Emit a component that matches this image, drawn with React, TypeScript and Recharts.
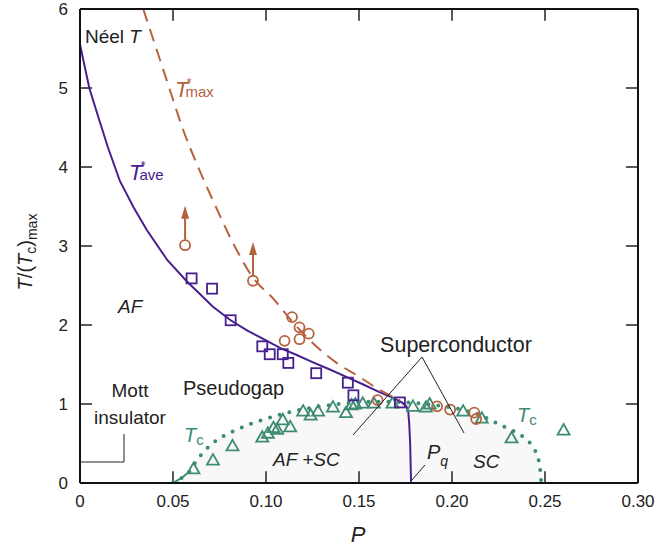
import React from 'react'
import {
  ComposedChart,
  Line,
  Area,
  Scatter,
  XAxis,
  YAxis,
  ReferenceLine,
} from 'recharts'

// doping P vs T/(Tc)max
const xTicks = [0, 0.05, 0.1, 0.15, 0.2, 0.25, 0.3]
const yTicks = [0, 1, 2, 3, 4, 5, 6]

const tAveCurve = [
  { p: 0, v: 5.55 }, { p: 0.005, v: 5.0 }, { p: 0.01, v: 4.62 }, { p: 0.015, v: 4.25 },
  { p: 0.0215, v: 3.82 }, { p: 0.029, v: 3.48 }, { p: 0.036, v: 3.2 }, { p: 0.047, v: 2.82 },
  { p: 0.0575, v: 2.55 }, { p: 0.065, v: 2.38 }, { p: 0.0715, v: 2.23 }, { p: 0.081, v: 2.06 },
  { p: 0.09, v: 1.93 }, { p: 0.098, v: 1.83 }, { p: 0.1075, v: 1.71 }, { p: 0.1165, v: 1.62 },
  { p: 0.125, v: 1.53 }, { p: 0.134, v: 1.44 }, { p: 0.1435, v: 1.34 }, { p: 0.152, v: 1.25 },
  { p: 0.161, v: 1.15 }, { p: 0.168, v: 1.08 }, { p: 0.173, v: 1.02 }, { p: 0.1755, v: 0.97 },
  { p: 0.1765, v: 0.9 }, { p: 0.177, v: 0.75 }, { p: 0.1775, v: 0.5 }, { p: 0.178, v: 0 },
]

const tMaxCurve = [
  { p: 0.034, v: 6.0 }, { p: 0.041, v: 5.5 }, { p: 0.048, v: 5.0 }, { p: 0.055, v: 4.5 },
  { p: 0.0635, v: 4.0 }, { p: 0.072, v: 3.55 }, { p: 0.082, v: 3.05 }, { p: 0.093, v: 2.6 },
  { p: 0.104, v: 2.33 }, { p: 0.115, v: 2.02 }, { p: 0.127, v: 1.73 }, { p: 0.138, v: 1.52 },
  { p: 0.1505, v: 1.34 }, { p: 0.161, v: 1.18 }, { p: 0.172, v: 1.05 },
]

const tcCurve = [
  { p: 0.05, v: 0 }, { p: 0.055, v: 0.07 }, { p: 0.059, v: 0.15 }, { p: 0.062, v: 0.26 },
  { p: 0.068, v: 0.43 }, { p: 0.074, v: 0.55 }, { p: 0.082, v: 0.65 }, { p: 0.093, v: 0.76 },
  { p: 0.104, v: 0.84 }, { p: 0.115, v: 0.91 }, { p: 0.129, v: 0.97 }, { p: 0.143, v: 1.01 },
  { p: 0.16, v: 1.03 }, { p: 0.175, v: 1.02 }, { p: 0.19, v: 0.99 }, { p: 0.205, v: 0.93 },
  { p: 0.215, v: 0.86 }, { p: 0.222, v: 0.78 }, { p: 0.23, v: 0.69 }, { p: 0.236, v: 0.62 },
  { p: 0.241, v: 0.53 }, { p: 0.2445, v: 0.42 }, { p: 0.2465, v: 0.3 }, { p: 0.2475, v: 0.15 },
  { p: 0.248, v: 0 },
]

const aveSquares = [
  { p: 0.06, v: 2.59 }, { p: 0.071, v: 2.46 }, { p: 0.081, v: 2.06 }, { p: 0.098, v: 1.73 },
  { p: 0.102, v: 1.63 }, { p: 0.109, v: 1.63 }, { p: 0.112, v: 1.52 }, { p: 0.127, v: 1.39 },
  { p: 0.144, v: 1.27 }, { p: 0.147, v: 1.11 }, { p: 0.172, v: 1.02 },
]

const maxCircles = [
  { p: 0.0565, v: 3.01 }, { p: 0.093, v: 2.56 }, { p: 0.114, v: 2.1 }, { p: 0.118, v: 1.97 },
  { p: 0.123, v: 1.89 }, { p: 0.118, v: 1.82 }, { p: 0.11, v: 1.8 }, { p: 0.16, v: 1.05 },
  { p: 0.192, v: 0.97 }, { p: 0.199, v: 0.93 }, { p: 0.212, v: 0.89 }, { p: 0.213, v: 0.81 },
]

// lower bounds: circle -> arrow tip
const arrowTips = [
  { p: 0.0565, v: 3.51 },
  { p: 0.093, v: 3.05 },
]

const tcTriangles = [
  { p: 0.061, v: 0.18 }, { p: 0.0715, v: 0.29 }, { p: 0.082, v: 0.47 }, { p: 0.098, v: 0.58 },
  { p: 0.101, v: 0.63 }, { p: 0.104, v: 0.7 }, { p: 0.106, v: 0.68 }, { p: 0.109, v: 0.8 },
  { p: 0.113, v: 0.71 }, { p: 0.12, v: 0.91 }, { p: 0.124, v: 0.86 }, { p: 0.128, v: 0.91 },
  { p: 0.136, v: 0.96 }, { p: 0.143, v: 0.89 }, { p: 0.146, v: 0.99 }, { p: 0.148, v: 1.0 },
  { p: 0.152, v: 1.01 }, { p: 0.158, v: 1.01 }, { p: 0.168, v: 1.01 }, { p: 0.179, v: 0.97 },
  { p: 0.186, v: 0.96 }, { p: 0.188, v: 1.0 }, { p: 0.206, v: 0.91 }, { p: 0.216, v: 0.82 },
  { p: 0.232, v: 0.57 }, { p: 0.26, v: 0.67 },
]

const PURPLE = '#48208d'
const BROWN = '#b4623f'
const GREEN = '#3d8b73'
const FONT = '"Liberation Sans", Arial, sans-serif'

const W = 667
const H = 547
// plot box: x 80..638, y 9..483
const margin = { top: 8, right: 28, bottom: 24, left: 40 }
// inward tick length (~12px) in data units
const TICK_X = 0.0065
const TICK_Y = 0.15

const fmtX = (t: number) => (t === 0 ? '0' : t.toFixed(2))
const axisLine = { stroke: '#111', strokeWidth: 2 }

function BottomLabel({ x, y, payload }: any) {
  return (
    <text x={x} y={y + 24} textAnchor="middle" fontSize={17} fill="#222" fontFamily={FONT}>
      {fmtX(payload.value)}
    </text>
  )
}

function LeftLabel({ x, y, payload }: any) {
  return (
    <text x={x - 12} y={y + 6} textAnchor="end" fontSize={17} fill="#222" fontFamily={FONT}>
      {payload.value}
    </text>
  )
}

const NoLabel = () => <g />

const square = (props: any) => (
  <rect x={props.cx - 5} y={props.cy - 5} width={10} height={10} fill="none" stroke={PURPLE} strokeWidth={1.8} />
)
const circle = (props: any) => (
  <circle cx={props.cx} cy={props.cy} r={5} fill="none" stroke={BROWN} strokeWidth={1.8} />
)
const triangle = (props: any) => (
  <path
    d={`M${props.cx},${props.cy - 6} L${props.cx + 6},${props.cy + 4.5} L${props.cx - 6},${props.cy + 4.5} Z`}
    fill="none"
    stroke={GREEN}
    strokeWidth={1.8}
  />
)
const arrowHead = (props: any) => (
  <path
    d={`M${props.cx},${props.cy} L${props.cx + 4},${props.cy + 13} L${props.cx - 4},${props.cy + 13} Z`}
    fill={BROWN}
  />
)

function Notes() {
  const t = { fontFamily: FONT, fill: '#222' }
  return (
    <svg width={W} height={H} style={{ position: 'absolute', left: 0, top: 0, pointerEvents: 'none' }}>
      <text x={85} y={43} fontSize={19} {...t}>
        Néel <tspan fontStyle="italic">T</tspan>
      </text>
      <text x={175} y={97} fontSize={22} fontFamily={FONT} fill={BROWN}>
        <tspan fontStyle="italic">T</tspan>
        <tspan fontSize={13} dx={-2} dy={-10}>*</tspan>
        <tspan fontSize={15} dx={-6} dy={10}>max</tspan>
      </text>
      <text x={129} y={180} fontSize={22} fontFamily={FONT} fill={PURPLE}>
        <tspan fontStyle="italic">T</tspan>
        <tspan fontSize={13} dx={-2} dy={-10}>*</tspan>
        <tspan fontSize={15} dx={-6} dy={10}>ave</tspan>
      </text>
      <text x={118} y={313} fontSize={19} fontStyle="italic" {...t}>AF</text>
      <text x={130} y={397} fontSize={19} textAnchor="middle" {...t}>Mott</text>
      <text x={130} y={424} fontSize={19} textAnchor="middle" {...t}>insulator</text>
      <polyline points="80,462 124,462 124,434" fill="none" stroke="#222" strokeWidth={1} />
      <text x={183} y={395} fontSize={20} {...t}>Pseudogap</text>
      <text x={456} y={352} fontSize={21.5} textAnchor="middle" {...t}>Superconductor</text>
      <polyline points="353,435 422,357 464,433" fill="none" stroke="#222" strokeWidth={1} />
      <text x={184} y={442} fontSize={20} fontFamily={FONT} fill={GREEN}>
        <tspan fontStyle="italic">T</tspan>
        <tspan fontSize={15} dy={3}>c</tspan>
      </text>
      <text x={517} y={422} fontSize={20} fontFamily={FONT} fill={GREEN}>
        <tspan fontStyle="italic">T</tspan>
        <tspan fontSize={15} dy={3}>c</tspan>
      </text>
      <text x={273} y={466} fontSize={19} fontStyle="italic" {...t}>AF +SC</text>
      <text x={427} y={459} fontSize={20} {...t}>
        <tspan fontStyle="italic">P</tspan>
        <tspan fontSize={14} fontStyle="italic" dy={7}>q</tspan>
      </text>
      <line x1={412} y1={480} x2={425} y2={465} stroke="#222" strokeWidth={1} />
      <text x={473} y={468} fontSize={19} fontStyle="italic" {...t}>SC</text>
      <text x={358} y={542} fontSize={22} fontStyle="italic" textAnchor="middle" {...t}>P</text>
      <text x={32} y={252} fontSize={20} textAnchor="middle" transform="rotate(-90 32 252)" {...t}>
        <tspan fontStyle="italic">T</tspan>/(<tspan fontStyle="italic">T</tspan>
        <tspan fontSize={14} dy={4}>c</tspan>
        <tspan dy={-4}>)</tspan>
        <tspan fontSize={14} dy={5}>max</tspan>
      </text>
    </svg>
  )
}

export default function App() {
  const tickStyle = { stroke: '#222', strokeWidth: 1.5 }
  return (
    <div style={{ position: 'absolute', left: 0, top: 0, width: W, height: H, background: 'white' }}>
      <ComposedChart width={W} height={H} margin={margin}>
        <XAxis
          xAxisId={0}
          dataKey="p"
          type="number"
          domain={[0, 0.3]}
          ticks={xTicks}
          interval={0}
          tickSize={0}
          tickMargin={0}
          tickLine={false}
          tick={<BottomLabel />}
          axisLine={axisLine}
          allowDataOverflow
          height={40}
        />
        <XAxis
          xAxisId="top"
          orientation="top"
          dataKey="p"
          type="number"
          domain={[0, 0.3]}
          ticks={xTicks}
          tickLine={false}
          tick={<NoLabel />}
          axisLine={axisLine}
          height={1}
        />
        <YAxis
          yAxisId={0}
          dataKey="v"
          type="number"
          domain={[0, 6]}
          ticks={yTicks}
          interval={0}
          tickSize={0}
          tickMargin={0}
          tickLine={false}
          tick={<LeftLabel />}
          axisLine={axisLine}
          allowDataOverflow
          width={40}
        />
        <YAxis
          yAxisId="right"
          orientation="right"
          dataKey="v"
          type="number"
          domain={[0, 6]}
          ticks={yTicks}
          tickLine={false}
          tick={<NoLabel />}
          axisLine={axisLine}
          width={1}
        />
        {/* inward ticks on all four sides */}
        {xTicks.slice(1, -1).map((t) => (
          <ReferenceLine key={`xb${t}`} segment={[{ x: t, y: 0 }, { x: t, y: TICK_Y }]} {...tickStyle} />
        ))}
        {xTicks.slice(1, -1).map((t) => (
          <ReferenceLine key={`xt${t}`} segment={[{ x: t, y: 6 }, { x: t, y: 6 - TICK_Y }]} {...tickStyle} />
        ))}
        {yTicks.slice(1, -1).map((t) => (
          <ReferenceLine key={`yl${t}`} segment={[{ x: 0, y: t }, { x: TICK_X, y: t }]} {...tickStyle} />
        ))}
        {yTicks.slice(1, -1).map((t) => (
          <ReferenceLine key={`yr${t}`} segment={[{ x: 0.3, y: t }, { x: 0.3 - TICK_X, y: t }]} {...tickStyle} />
        ))}
        <Area
          data={tcCurve}
          dataKey="v"
          type="monotone"
          fill="#f8f8f8"
          fillOpacity={1}
          stroke="none"
          baseValue={0}
          isAnimationActive={false}
        />
        <Line
          data={tcCurve}
          dataKey="v"
          type="monotone"
          stroke={GREEN}
          strokeWidth={4}
          strokeDasharray="0 10"
          strokeLinecap="round"
          dot={false}
          isAnimationActive={false}
        />
        <Line
          data={tcCurve.slice(0, 3)}
          dataKey="v"
          type="linear"
          stroke={GREEN}
          strokeWidth={2}
          dot={false}
          isAnimationActive={false}
        />
        <Line
          data={tAveCurve}
          dataKey="v"
          type="linear"
          stroke={PURPLE}
          strokeWidth={2}
          dot={false}
          isAnimationActive={false}
        />
        <Line
          data={tMaxCurve}
          dataKey="v"
          type="monotone"
          stroke={BROWN}
          strokeWidth={2}
          strokeDasharray="13 8"
          dot={false}
          isAnimationActive={false}
        />
        {maxCircles.slice(0, 2).map((c, i) => (
          <ReferenceLine
            key={i}
            segment={[
              { x: c.p, y: c.v + 0.07 },
              { x: arrowTips[i].p, y: arrowTips[i].v - 0.1 },
            ]}
            stroke={BROWN}
            strokeWidth={2}
          />
        ))}
        <Scatter data={arrowTips} dataKey="v" shape={arrowHead} isAnimationActive={false} />
        <Scatter data={tcTriangles} dataKey="v" shape={triangle} isAnimationActive={false} />
        <Scatter data={aveSquares} dataKey="v" shape={square} isAnimationActive={false} />
        <Scatter data={maxCircles} dataKey="v" shape={circle} isAnimationActive={false} />
      </ComposedChart>
      <Notes />
    </div>
  )
}
